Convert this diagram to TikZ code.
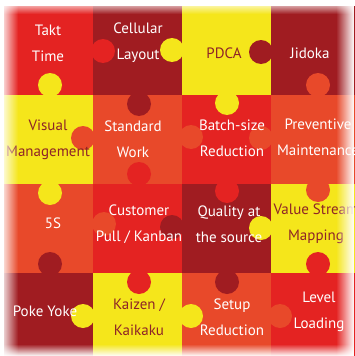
\documentclass[tikz,border=0pt]{standalone}
\usepackage{fontspec}
\setmainfont{PT Sans}
\usetikzlibrary{fadings}

\definecolor{puzzlerot}{HTML}{E42322}
\definecolor{puzzledunkel}{HTML}{A01C21}
\definecolor{puzzlegelb}{HTML}{F5E61B}
\definecolor{puzzleorange}{HTML}{E8492A}
\definecolor{schrift}{HTML}{8E2427}

% Uebergaenge fuer den weichen Rand
\tikzfading[name=randlinks,  left color=transparent!0,   right color=transparent!100]
\tikzfading[name=randrechts, left color=transparent!100, right color=transparent!0]
\tikzfading[name=randoben,   top color=transparent!0,    bottom color=transparent!100]
\tikzfading[name=randunten,  top color=transparent!100,  bottom color=transparent!0]

\tikzset{
  feld/.style     = {align=center, text=white, inner sep=0pt,
                     font=\fontsize{15}{26}\selectfont},
  feldgelb/.style = {feld, text=schrift},
}

\begin{document}
\begin{tikzpicture}[x=1pt, y=-1pt]
  \useasboundingbox (0,0) rectangle (354,356);

  % Felder, Zeile 1
  \fill[puzzlerot]    (4,6)   rectangle (93,95);
  \fill[puzzledunkel] (93,6)  rectangle (182,95);
  \fill[puzzlegelb]   (182,6) rectangle (271,95);
  \fill[puzzledunkel] (271,6) rectangle (360,95);
  % Zeile 2
  \fill[puzzlegelb]   (4,95)   rectangle (93,184);
  \fill[puzzleorange] (93,95)  rectangle (182,184);
  \fill[puzzlerot]    (182,95) rectangle (271,184);
  \fill[puzzleorange] (271,95) rectangle (360,184);
  % Zeile 3
  \fill[puzzleorange] (4,184)   rectangle (93,273);
  \fill[puzzlerot]    (93,184)  rectangle (182,273);
  \fill[puzzledunkel] (182,184) rectangle (271,273);
  \fill[puzzlegelb]   (271,184) rectangle (360,273);
  % Zeile 4
  \fill[puzzledunkel] (4,273)   rectangle (93,362);
  \fill[puzzlegelb]   (93,273)  rectangle (182,362);
  \fill[puzzleorange] (182,273) rectangle (271,362);
  \fill[puzzlerot]    (271,273) rectangle (360,362);

  % Nasen
  \fill[puzzlerot] (103,51) circle (12pt) (139,174) circle (12pt)
    (227,191) circle (12pt) (139,282) circle (12pt) (318,264) circle (12pt);
  \fill[puzzledunkel] (261,52) circle (12pt) (139,104) circle (12pt)
    (172,227) circle (12pt) (50,264) circle (12pt) (227,282) circle (12pt);
  \fill[puzzlegelb] (172,50) circle (12pt) (50,85) circle (12pt)
    (227,103) circle (12pt) (50,193) circle (12pt) (261,228) circle (12pt)
    (83,316) circle (12pt) (191,316) circle (12pt);
  \fill[puzzleorange] (83,138) circle (12pt) (191,137) circle (12pt)
    (261,138) circle (12pt) (318,85) circle (12pt) (104,224) circle (12pt)
    (318,190) circle (12pt) (280,316) circle (12pt);

  % Beschriftung
  \node[feld]     (takt)      at (48,43)    {Takt\\Time};
  \node[feld]     (zelle)     at (138,43)   {Cellular\\Layout};
  \node[feldgelb] (pdca)      at (224,53)   {PDCA};
  \node[feld]     (jidoka)    at (310,53)   {Jidoka};
  \node[feldgelb] (visuell)   at (48,139.5) {Visual\\Management};
  \node[feld]     (standard)  at (133,139.5){Standard\\Work};
  \node[feld]     (losgroesse)at (232,138)  {Batch-size\\Reduction};
  \node[feld]     (wartung)   at (318,137.5){Preventive\\Maintenance};
  \node[feld]     (fuenfs)    at (53,223)   {5S};
  \node[feld]     (kanban)    at (139,224)  {Customer\\Pull / Kanban};
  \node[feld]     (qualitaet) at (229,224)  {Quality at\\the source};
  \node[feldgelb] (wertstrom) at (316,224)  {Value Stream\\Mapping};
  \node[feld]     (pokayoke)  at (45,311)   {Poke Yoke};
  \node[feldgelb] (kaizen)    at (139,317)  {Kaizen /\\Kaikaku};
  \node[feld]     (ruesten)   at (232,317)  {Setup\\Reduction};
  \node[feld]     (level)     at (319,312)  {Level\\Loading};

  % weicher Rand
  \fill[white, path fading=randlinks]  (0,0)   rectangle (18,356);
  \fill[white, path fading=randrechts] (336,0) rectangle (354,356);
  \fill[white, path fading=randoben]   (0,0)   rectangle (354,14);
  \fill[white, path fading=randunten]  (0,344) rectangle (354,356);
\end{tikzpicture}
\end{document}
